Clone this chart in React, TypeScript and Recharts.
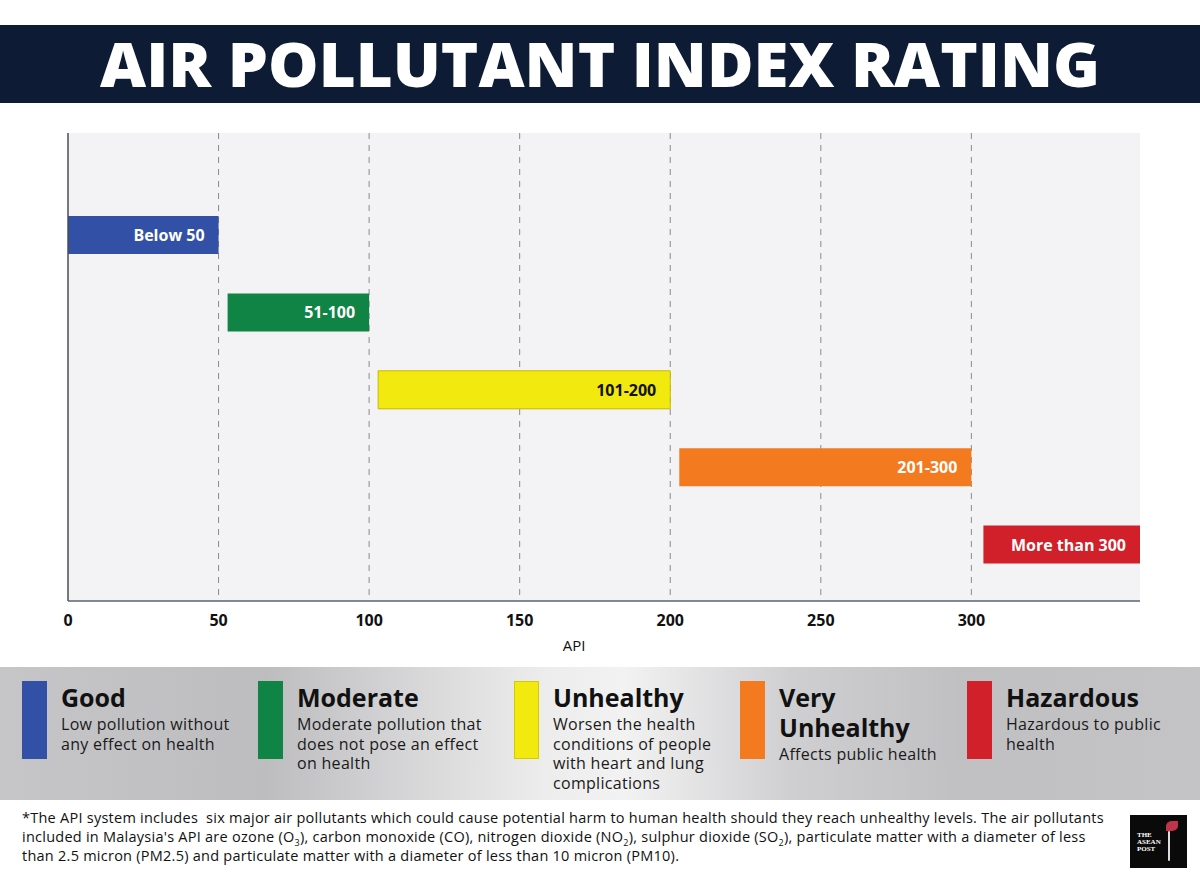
import { BarChart, Bar, XAxis, YAxis, CartesianGrid, Cell, LabelList, ReferenceLine } from 'recharts';

// Categories and ranges
const categories = ['Good', 'Moderate', 'Unhealthy', 'Very Unhealthy', 'Hazardous'];
const rangeLabels = ['Below 50', '51-100', '101-200', '201-300', 'More than 300'];
const rangeStart = [0, 53, 103, 203, 304];
const rangeEnd = [50, 100, 200, 300, 356];
const barColors = ['#3251a6', '#0f8444', '#f2e90f', '#f47a20', '#d1202a'];
const xTicks = [0, 50, 100, 150, 200, 250, 300];

// legend text, wrapped as in the reference
const descriptions = [
  ['Low pollution without', 'any effect on health'],
  ['Moderate pollution that', 'does not pose an effect', 'on health'],
  ['Worsen the health', 'conditions of people', 'with heart and lung', 'complications'],
  ['Affects public health'],
  ['Hazardous to public', 'health'],
];
const legendTitles = [['Good'], ['Moderate'], ['Unhealthy'], ['Very', 'Unhealthy'], ['Hazardous']];
const legendX = [22, 258, 514, 740, 967];

const data = categories.map((name, i) => ({
  name,
  range: [rangeStart[i], rangeEnd[i]],
  label: rangeLabels[i],
}));

const FONT = '"Open Sans", "DejaVu Sans", sans-serif';

const renderBarLabel = (props: any) => {
  const { x, y, width, height, value, index } = props;
  return (
    <text
      x={x + width - 14}
      y={y + height / 2}
      textAnchor="end"
      dominantBaseline="central"
      fill={index === 2 ? '#111' : '#fff'}
      fontSize={16}
      fontWeight={700}
    >
      {value}
    </text>
  );
};

const subStyle = { fontSize: 9, lineHeight: 0 };

export default function App() {
  return (
    <div
      style={{
        position: 'absolute',
        left: 0,
        top: 0,
        width: 1200,
        height: 879,
        background: '#fff',
        fontFamily: FONT,
        overflow: 'hidden',
      }}
    >
      {/* title band */}
      <div style={{ position: 'absolute', left: 0, top: 25, width: 1200, height: 78, background: '#0d1b34' }} />
      <svg width={1200} height={125} style={{ position: 'absolute', left: 0, top: 0 }}>
        <text
          x={100}
          y={87}
          textLength={1000}
          lengthAdjust="spacingAndGlyphs"
          fill="#fff"
          fontSize={62}
          fontWeight={800}
          fontFamily={FONT}
        >
          AIR POLLUTANT INDEX RATING
        </text>
      </svg>

      <div style={{ position: 'absolute', left: 0, top: 0 }}>
        <BarChart
          width={1200}
          height={660}
          data={data}
          layout="vertical"
          margin={{ top: 133, right: 60, bottom: 9, left: 68 }}
          barSize={38}
        >
          <CartesianGrid
            horizontal={false}
            verticalValues={xTicks.slice(1)}
            syncWithTicks
            strokeDasharray="6 6"
            stroke="#8a8a8e"
            fill="#f3f3f5"
          />
          <XAxis
            type="number"
            domain={[0, 356]}
            ticks={xTicks}
            height={50}
            tickLine={false}
            tickMargin={8}
            axisLine={{ stroke: '#5b6274', strokeWidth: 1.5 }}
            tick={{ fill: '#111', fontSize: 16, fontWeight: 700 }}
            label={{ value: 'API', position: 'insideBottom', dx: -30, offset: 0, fill: '#111', fontSize: 15 }}
          />
          <YAxis
            type="category"
            dataKey="name"
            width={0}
            tick={false}
            tickLine={false}
            axisLine={false}
            padding={{ top: 63, bottom: 18 }}
          />
          <Bar dataKey="range" isAnimationActive={false}>
            {data.map((d, i) => (
              <Cell
                key={d.name}
                fill={barColors[i]}
                stroke={i === 2 ? '#c9b700' : 'none'}
                strokeWidth={i === 2 ? 1 : 0}
              />
            ))}
            <LabelList dataKey="label" content={renderBarLabel} />
          </Bar>
          <ReferenceLine x={0} stroke="#4d4e54" strokeWidth={1.5} />
        </BarChart>
      </div>

      {/* legend panel */}
      <div
        style={{
          position: 'absolute',
          left: 0,
          top: 667,
          width: 1200,
          height: 133,
          background:
            'linear-gradient(90deg, #c6c6c9 0%, #bdbdc0 22%, #ececec 45%, #f2f2f2 52%, #cfcfd2 66%, #c0c0c3 80%, #c4c4c7 100%)',
        }}
      >
        {categories.map((c, i) => (
          <div key={c}>
            <div
              style={{
                position: 'absolute',
                left: legendX[i],
                top: 14,
                width: 25,
                height: 78,
                background: barColors[i],
                boxShadow: i === 2 ? 'inset 0 0 0 1px #d6c900' : 'none',
              }}
            />
            <div style={{ position: 'absolute', left: legendX[i] + 39, top: 15, whiteSpace: 'nowrap' }}>
              {legendTitles[i].map((t) => (
                <div key={t} style={{ fontSize: 25, fontWeight: 700, color: '#111', lineHeight: '30px' }}>
                  {t}
                </div>
              ))}
              <div style={{ marginTop: 3 }}>
                {descriptions[i].map((line) => (
                  <div
                    key={line}
                    style={{ fontSize: 16, letterSpacing: 0.3, color: '#1a1a1a', lineHeight: '19.5px' }}
                  >
                    {line}
                  </div>
                ))}
              </div>
            </div>
          </div>
        ))}
      </div>

      {/* footnote */}
      <div
        style={{
          position: 'absolute',
          left: 22,
          top: 808,
          fontSize: 14.5,
          letterSpacing: 0.25,
          lineHeight: '19px',
          color: '#111',
          whiteSpace: 'nowrap',
        }}
      >
        <div>
          *The API system includes&nbsp; six major air pollutants which could cause potential harm to human health should
          they reach unhealthy levels. The air pollutants
        </div>
        <div>
          included in Malaysia's API are ozone (O<sub style={subStyle}>3</sub>), carbon monoxide (CO), nitrogen dioxide (NO
          <sub style={subStyle}>2</sub>), sulphur dioxide (SO<sub style={subStyle}>2</sub>), particulate matter with a
          diameter of less
        </div>
        <div>than 2.5 micron (PM2.5) and particulate matter with a diameter of less than 10 micron (PM10).</div>
      </div>

      {/* logo */}
      <div
        style={{
          position: 'absolute',
          left: 1130,
          top: 815,
          width: 57,
          height: 53,
          background: '#0a0a0a',
          color: '#fff',
          fontFamily: '"Liberation Serif", serif',
          fontSize: 7,
          fontWeight: 700,
          lineHeight: '7px',
        }}
      >
        <div style={{ position: 'absolute', left: 7, top: 17 }}>
          THE
          <br />
          ASEAN
          <br />
          POST
        </div>
        <div
          style={{
            position: 'absolute',
            left: 36,
            top: 6,
            width: 12,
            height: 10,
            background: '#c0334a',
            borderRadius: '50% 0 50% 0',
          }}
        />
        <div style={{ position: 'absolute', left: 38, top: 16, width: 2, height: 30, background: '#ddd', borderRadius: 2 }} />
      </div>
    </div>
  );
}
